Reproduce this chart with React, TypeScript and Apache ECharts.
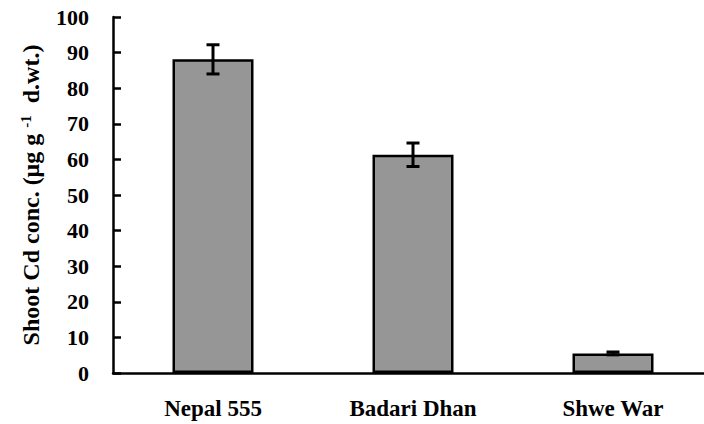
import React, { useEffect, useRef } from "react";
import * as echarts from "echarts";

const categories = ["Nepal 555", "Badari Dhan", "Shwe War"];
const values = [88.1, 61.3, 5.5];
const errors = [4.1, 3.3, 0.4];
const yTicks = { min: 0, max: 100, interval: 10 };

const FONT = '"Liberation Serif", "Times New Roman", serif';

export default function App() {
  const ref = useRef<HTMLDivElement>(null);
  useEffect(() => {
    if (!ref.current) return;
    const chart = echarts.init(ref.current, undefined, { renderer: "svg" });
    const errData = values.map((v, i) => [i, v - errors[i], v + errors[i]]);
    chart.setOption({
      animation: false,
      backgroundColor: "#ffffff",
      grid: { left: 113, right: 7, top: 17, bottom: 51, containLabel: false },
      xAxis: {
        type: "category",
        data: categories,
        axisLine: { lineStyle: { color: "#000", width: 2.5 } },
        axisTick: { inside: true, length: 8, lineStyle: { color: "#000", width: 2.5 } },
        axisLabel: {
          margin: 24,
          fontFamily: FONT,
          fontWeight: "bold",
          fontSize: 23,
          color: "#000",
        },
        splitLine: { show: false },
      },
      yAxis: {
        type: "value",
        min: yTicks.min,
        max: yTicks.max,
        interval: yTicks.interval,
        axisLine: { show: true, lineStyle: { color: "#000", width: 2.5 } },
        axisTick: { show: true, inside: true, length: 8, lineStyle: { color: "#000", width: 2.5 } },
        axisLabel: {
          margin: 24,
          fontFamily: FONT,
          fontWeight: "bold",
          fontSize: 22,
          color: "#000",
        },
        splitLine: { show: false },
        name: "{n|Shoot Cd conc. (μg g }{s|-1}{n|  d.wt.)}",
        nameLocation: "middle",
        nameRotate: 90,
        nameGap: 70,
        nameTextStyle: {
          rich: {
            n: { fontFamily: FONT, fontWeight: "bold", fontSize: 24, color: "#000" },
            s: { fontFamily: FONT, fontWeight: "bold", fontSize: 15, color: "#000", verticalAlign: "top", padding: [0, 0, 10, 0] },
          },
        },
      },
      series: [
        {
          type: "bar",
          data: values,
          barWidth: 81,
          itemStyle: { color: "#969696", borderColor: "#000", borderWidth: 2.5 },
        },
        {
          type: "custom",
          data: errData,
          encode: { x: 0, y: [1, 2] },
          z: 10,
          renderItem: (params: any, api: any) => {
            const i = api.value(0);
            const lo = api.coord([i, api.value(1)]);
            const hi = api.coord([i, api.value(2)]);
            const hw = 6.5;
            const style = { stroke: "#000", lineWidth: 3 };
            return {
              type: "group",
              children: [
                { type: "line", shape: { x1: lo[0], y1: lo[1], x2: hi[0], y2: hi[1] }, style },
                { type: "line", shape: { x1: hi[0] - hw, y1: hi[1], x2: hi[0] + hw, y2: hi[1] }, style },
                { type: "line", shape: { x1: lo[0] - hw, y1: lo[1], x2: lo[0] + hw, y2: lo[1] }, style },
              ],
            };
          },
        },
      ],
    });
    return () => chart.dispose();
  }, []);
  return (
    <div style={{ position: "absolute", left: 0, top: 0, width: 704, height: 424, overflow: "hidden" }}>
      <div ref={ref} style={{ width: 720, height: 424 }} />
    </div>
  );
}
